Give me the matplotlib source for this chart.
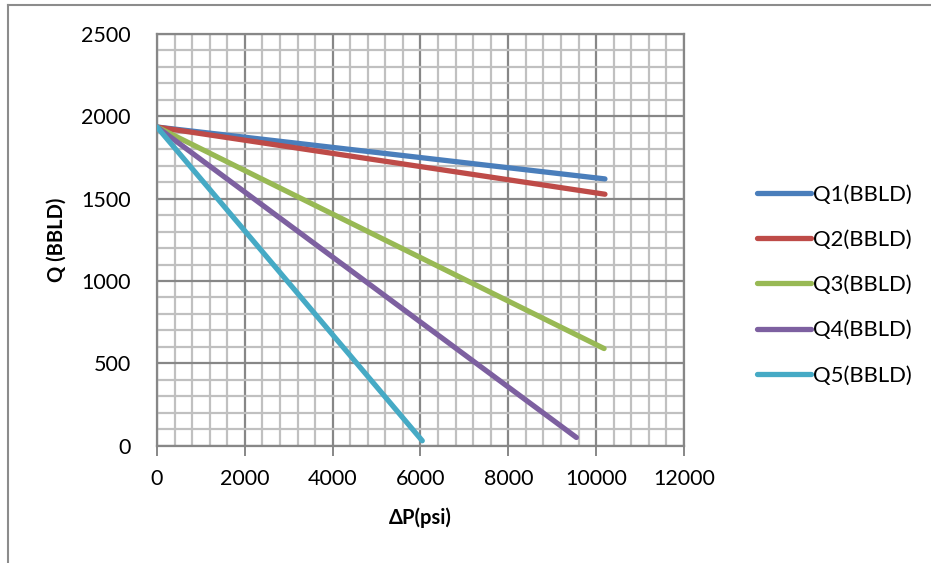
import matplotlib
matplotlib.use("Agg")
import matplotlib.pyplot as plt
from matplotlib.ticker import MultipleLocator
from matplotlib.lines import Line2D

plt.rcParams['font.family'] = ['Lato', 'DejaVu Sans']

# Flow rate vs. pressure drop for five cases (start and end of each straight line)
dp_q1 = [0, 10200]
q1 = [1935, 1620]
dp_q2 = [0, 10200]
q2 = [1935, 1527]
dp_q3 = [0, 10180]
q3 = [1935, 590]
dp_q4 = [0, 9550]
q4 = [1935, 50]
dp_q5 = [0, 6040]
q5 = [1935, 30]

series_labels = ["Q1(BBLD)", "Q2(BBLD)", "Q3(BBLD)", "Q4(BBLD)", "Q5(BBLD)"]
series_colors = ["#4A7EBB", "#BE4B48", "#98B954", "#7D60A0", "#46AAC5"]

x_ticks = [0, 2000, 4000, 6000, 8000, 10000, 12000]
y_ticks = [0, 500, 1000, 1500, 2000, 2500]

fig = plt.figure(figsize=(9.31, 5.63), dpi=100)
ax = fig.add_axes([157/931, 1 - 445.7/563, (684 - 157)/931, (445.7 - 34)/563])

major_c = "#878787"
minor_c = "#C0C0C0"

data = [(dp_q1, q1), (dp_q2, q2), (dp_q3, q3), (dp_q4, q4), (dp_q5, q5)]
for (x, y), lab, c in zip(data, series_labels, series_colors):
    ax.plot(x, y, color=c, lw=3.8, solid_capstyle='round', label=lab, zorder=3)

ax.set_xlim(0, 12000)
ax.set_ylim(0, 2500)
ax.set_xticks(x_ticks)
ax.set_yticks(y_ticks)
ax.xaxis.set_minor_locator(MultipleLocator(400))
ax.yaxis.set_minor_locator(MultipleLocator(100))

ax.grid(which='minor', color=minor_c, lw=1.6, zorder=0)
ax.grid(which='major', color=major_c, lw=1.6, zorder=1)
ax.set_axisbelow(True)

for s in ['top', 'right', 'left', 'bottom']:
    ax.spines[s].set_color(major_c)
    ax.spines[s].set_linewidth(1.6)

ax.tick_params(which='major', direction='out', length=7, width=1.4, color=major_c,
               labelsize=15.5)
ax.tick_params(which='minor', length=0)
ax.tick_params(axis='x', pad=10)
ax.tick_params(axis='y', pad=19, length=0)

ax.set_xlabel("ΔP(psi)", fontsize=14.5, fontweight='bold', labelpad=13)
ax.set_ylabel("Q (BBLD)", fontsize=14.5, fontweight='bold', labelpad=10)

handles = [Line2D([], [], color=c, lw=3.8, solid_capstyle='round') for c in series_colors]
fig.legend(handles, series_labels, loc='center left', bbox_to_anchor=(757/931, 1 - 285/563),
           frameon=False, fontsize=15.8, handlelength=2.45, handletextpad=0.12,
           labelspacing=1.15, borderaxespad=0, borderpad=0)

# Chart-area border (left and top edges)
fig.add_artist(Line2D([8/931, 8/931], [0, 1 - 5/563], color="#8C8C8C", lw=1.5))
fig.add_artist(Line2D([8/931, 1], [1 - 5/563, 1 - 5/563], color="#8C8C8C", lw=1.5))

fig.savefig("out.png", dpi=100)
